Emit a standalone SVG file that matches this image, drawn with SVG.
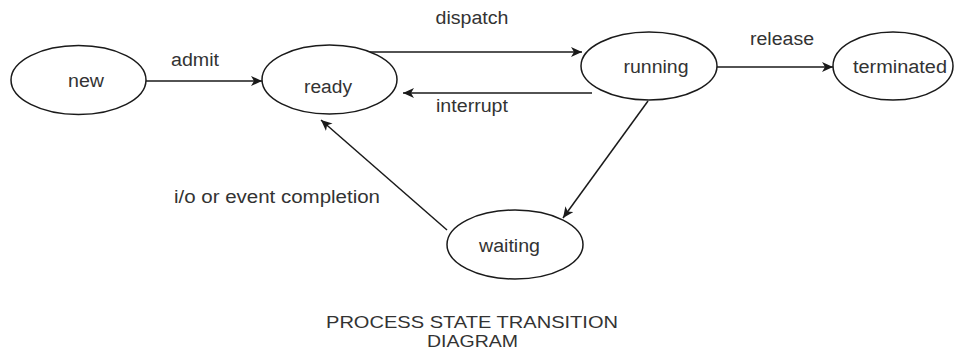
<svg xmlns="http://www.w3.org/2000/svg" width="955" height="352" viewBox="0 0 955 352">
  <style>
    .state { fill: #ffffff; stroke: #1a1a1a; stroke-width: 1.5; }
    .edge { fill: none; stroke: #1a1a1a; stroke-width: 1.5; marker-end: url(#arrow); }
    text { font-family: "Liberation Sans", Arial, sans-serif; font-size: 18px; fill: #333333; }
    .mid { text-anchor: middle; }
    .caption { font-size: 17px; }
  </style>
  <defs>
    <marker id="arrow" markerUnits="userSpaceOnUse" markerWidth="12" markerHeight="10" refX="11" refY="5" orient="auto">
      <path d="M0,0 L11,5 L0,10 L3,5 Z" fill="#1a1a1a"/>
    </marker>
  </defs>
  <rect width="955" height="352" fill="#ffffff"/>

  <g id="connectors">
    <path class="edge" d="M146,81 L262,81"/>
    <path class="edge" d="M366,52 L582,52"/>
    <path class="edge" d="M592,93 L403,93"/>
    <path class="edge" d="M717,67 L833,67"/>
    <path class="edge" d="M648,101 L563,218"/>
    <path class="edge" d="M447,230 L321,120"/>
    <text x="195" y="66" class="mid" textLength="48" lengthAdjust="spacingAndGlyphs">admit</text>
    <text x="472" y="24" class="mid" textLength="73" lengthAdjust="spacingAndGlyphs">dispatch</text>
    <text x="472" y="112" class="mid" textLength="72" lengthAdjust="spacingAndGlyphs">interrupt</text>
    <text x="782" y="45" class="mid" textLength="64" lengthAdjust="spacingAndGlyphs">release</text>
    <text x="277" y="203" class="mid" textLength="206" lengthAdjust="spacingAndGlyphs">i/o or event completion</text>
  </g>

  <g id="new">
    <ellipse class="state" cx="78.5" cy="80" rx="67.5" ry="34.5"/>
    <text x="86" y="87" class="mid" textLength="36" lengthAdjust="spacingAndGlyphs">new</text>
  </g>
  <g id="ready">
    <ellipse class="state" cx="329.5" cy="79.5" rx="67.5" ry="34.5"/>
    <text x="328" y="93" class="mid" textLength="48" lengthAdjust="spacingAndGlyphs">ready</text>
  </g>
  <g id="running">
    <ellipse class="state" cx="649" cy="66" rx="68" ry="34"/>
    <text x="656" y="73" class="mid" textLength="65" lengthAdjust="spacingAndGlyphs">running</text>
  </g>
  <g id="terminated">
    <ellipse class="state" cx="893" cy="66" rx="60" ry="34"/>
    <text x="900" y="73" class="mid" textLength="94" lengthAdjust="spacingAndGlyphs">terminated</text>
  </g>
  <g id="waiting">
    <ellipse class="state" cx="515" cy="244.5" rx="68" ry="34.5"/>
    <text x="509.5" y="252" class="mid" textLength="61" lengthAdjust="spacingAndGlyphs">waiting</text>
  </g>

  <g id="title">
    <text x="472" y="328" class="mid caption" textLength="292" lengthAdjust="spacingAndGlyphs">PROCESS STATE TRANSITION</text>
    <text x="472.5" y="347" class="mid caption" textLength="91" lengthAdjust="spacingAndGlyphs">DIAGRAM</text>
  </g>
</svg>
